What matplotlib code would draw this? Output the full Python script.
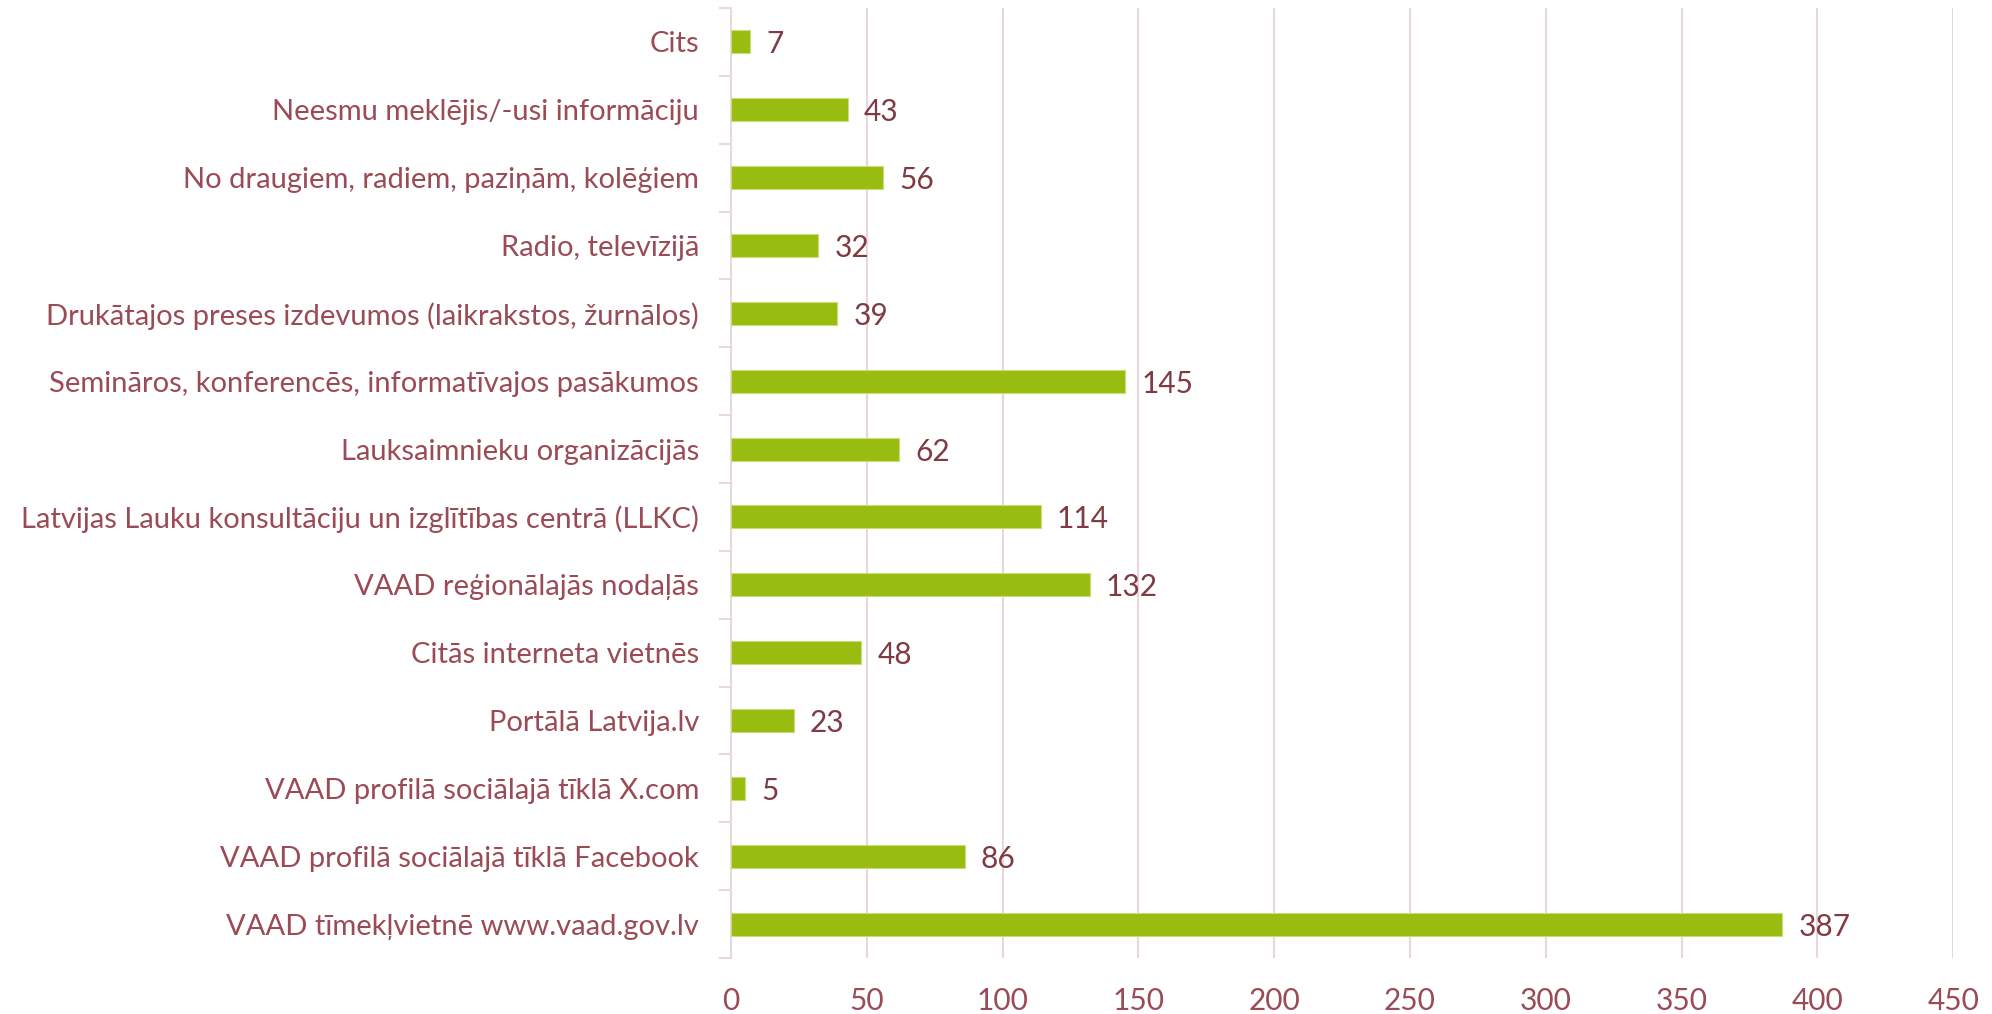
import numpy as np
import matplotlib
matplotlib.use("Agg")
import matplotlib.pyplot as plt
from matplotlib.ticker import FixedLocator

# categories listed bottom -> top as drawn
categories = [
    "VAAD tīmekļvietnē www.vaad.gov.lv",
    "VAAD profilā sociālajā tīklā Facebook",
    "VAAD profilā sociālajā tīklā X.com",
    "Portālā Latvija.lv",
    "Citās interneta vietnēs",
    "VAAD reģionālajās nodaļās",
    "Latvijas Lauku konsultāciju un izglītības centrā (LLKC)",
    "Lauksaimnieku organizācijās",
    "Semināros, konferencēs, informatīvajos pasākumos",
    "Drukātajos preses izdevumos (laikrakstos, žurnālos)",
    "Radio, televīzijā",
    "No draugiem, radiem, paziņām, kolēģiem",
    "Neesmu meklējis/-usi informāciju",
    "Cits",
]
counts = [387, 86, 5, 23, 48, 132, 114, 62, 145, 39, 32, 56, 43, 7]
x_ticks = [0, 50, 100, 150, 200, 250, 300, 350, 400, 450]

bar_color = "#99BC10"
label_color = "#9B4B55"
value_color = "#7F3A42"
grid_color = "#EAD7DA"

plt.rcParams['font.family'] = ['Lato', 'DejaVu Sans']

fig = plt.figure(figsize=(19.92, 10.14), dpi=100)
ax = fig.add_axes([0.367, 0.0552, 0.6135, 0.9369])

y = np.arange(len(categories))
ax.barh(y, counts, height=0.34, color=bar_color, edgecolor="#C8DC7A", linewidth=0.8, zorder=3)

for yi, v in zip(y, counts):
    ax.text(v + 6, yi, str(v), va="center_baseline", ha="left", fontsize=21.5, color=value_color, zorder=4)

ax.set_xlim(0, 450)
ax.set_ylim(-0.5, len(categories) - 0.5)
ax.set_xticks(x_ticks)
ax.set_yticks(y)
ax.set_yticklabels(categories, va="center_baseline")
ax.yaxis.set_minor_locator(FixedLocator(np.arange(-0.5, len(categories), 1.0)))

ax.tick_params(axis="y", which="major", length=0, pad=23, labelsize=21, labelcolor=label_color)
ax.tick_params(axis="y", which="minor", length=9, width=1.5, color=grid_color, direction="out")
ax.tick_params(axis="x", length=0, pad=21, labelsize=21.5, labelcolor=label_color)

ax.grid(axis="x", color=grid_color, linewidth=1.5, zorder=0)
for s in ["top", "right", "bottom"]:
    ax.spines[s].set_visible(False)
ax.spines["left"].set_color(grid_color)
ax.spines["left"].set_linewidth(1.5)

fig.savefig("out.png", dpi=100)
